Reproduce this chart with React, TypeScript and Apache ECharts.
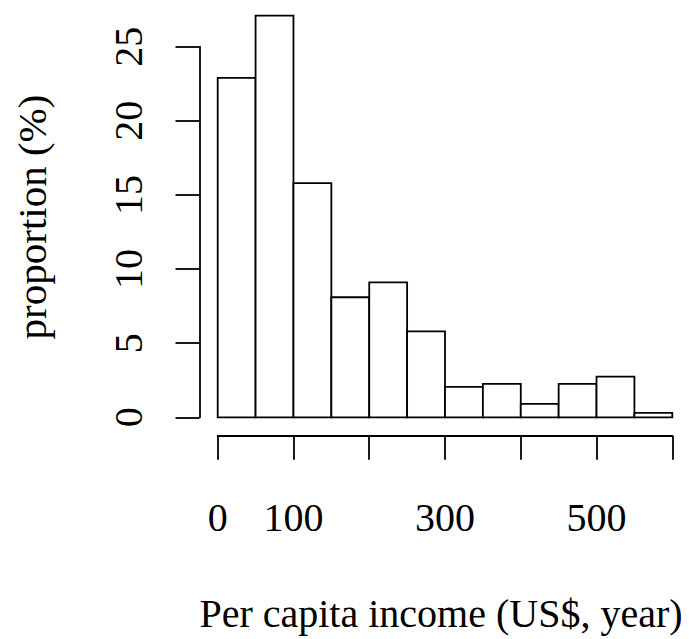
import React, { useEffect, useRef } from "react";
import * as echarts from "echarts";

// Histogram bins (US$ per year) and proportions (%)
const binEdges = [0, 50, 100, 150, 200, 250, 300, 350, 400, 450, 500, 550, 600];
const proportions = [22.9, 27.1, 15.8, 8.1, 9.1, 5.8, 2.05, 2.25, 0.9, 2.25, 2.75, 0.3];
const xTickValues = [0, 100, 200, 300, 400, 500, 600];
const xTickLabelsShown = [0, 100, 300, 500];
const yTickValues = [0, 5, 10, 15, 20, 25];
const xTitle = "Per capita income (US$, year)";
const yTitle = "proportion (%)";

const FONT = "'Liberation Serif', 'Times New Roman', serif";

export default function App() {
  const ref = useRef<HTMLDivElement>(null);
  useEffect(() => {
    document.body.style.margin = "0";
    const chart = echarts.init(ref.current!, null, { renderer: "svg" });
    const histData = proportions.map((v, i) => [binEdges[i], binEdges[i + 1], v]);
    const W = 689;
    const H = 639;
    // pixel layout
    const x0 = 217.7;
    const x600 = 672.3;
    const yZero = 417.3;
    const y25 = 46.7;
    const pxPerUnit = (yZero - y25) / 25;
    const yMaxBars = 27.5;
    const yAxisX = 199.5;
    const xAxisY = 435.7;
    const LW = 1.8;

    chart.setOption({
      animation: false,
      backgroundColor: "#ffffff",
      grid: [
        // bars
        { left: x0, right: W - x600, top: yZero - yMaxBars * pxPerUnit, bottom: H - yZero, containLabel: false },
        // y axis
        { left: yAxisX, width: 10, top: y25, bottom: H - yZero, containLabel: false },
        // x axis
        { left: x0, right: W - x600, top: xAxisY - 10, bottom: H - xAxisY, containLabel: false },
      ],
      xAxis: [
        { gridIndex: 0, type: "value", min: 0, max: 600, show: false },
        { gridIndex: 1, type: "value", min: 0, max: 1, show: false },
        {
          gridIndex: 2,
          type: "value",
          min: 0,
          max: 600,
          interval: 100,
          position: "bottom",
          axisLine: { show: true, lineStyle: { color: "#000", width: LW } },
          axisTick: { show: true, inside: false, length: 24, lineStyle: { color: "#000", width: LW } },
          splitLine: { show: false },
          axisLabel: {
            show: true,
            margin: 62,
            fontSize: 40,
            fontFamily: FONT,
            color: "#000",
            showMinLabel: true,
            showMaxLabel: true,
            hideOverlap: false,
            formatter: (v: number) => (xTickLabelsShown.includes(v) && xTickValues.includes(v) ? String(v) : ""),
          },
        },
      ],
      yAxis: [
        { gridIndex: 0, type: "value", min: 0, max: yMaxBars, show: false },
        {
          gridIndex: 1,
          type: "value",
          min: 0,
          max: 25,
          interval: 5,
          position: "left",
          axisLine: { show: true, lineStyle: { color: "#000", width: LW } },
          axisTick: { show: true, inside: false, length: 24, lineStyle: { color: "#000", width: LW } },
          splitLine: { show: false },
          axisLabel: {
            show: true,
            rotate: 90,
            margin: 51,
            fontSize: 40,
            fontFamily: FONT,
            color: "#000",
            showMinLabel: true,
            showMaxLabel: true,
            hideOverlap: false,
            formatter: (v: number) => (yTickValues.includes(v) ? String(v) : ""),
          },
        },
        { gridIndex: 2, type: "value", min: 0, max: 1, show: false },
      ],
      graphic: [
        {
          type: "text",
          x: 441,
          y: 613,
          style: {
            text: xTitle,
            fontSize: 40,
            fontFamily: FONT,
            fill: "#000",
            align: "center",
            verticalAlign: "middle",
          },
        },
        {
          type: "text",
          x: 32,
          y: 217,
          rotation: Math.PI / 2,
          style: {
            text: yTitle,
            fontSize: 41,
            fontFamily: FONT,
            fill: "#000",
            align: "center",
            verticalAlign: "middle",
          },
        },
      ],
      series: [
        {
          type: "custom",
          xAxisIndex: 0,
          yAxisIndex: 0,
          data: histData,
          encode: { x: [0, 1], y: 2 },
          renderItem: (params: any, api: any) => {
            const pTop = api.coord([api.value(0), api.value(2)]);
            const pBot = api.coord([api.value(1), 0]);
            return {
              type: "rect",
              shape: { x: pTop[0], y: pTop[1], width: pBot[0] - pTop[0], height: pBot[1] - pTop[1] },
              style: { fill: "#ffffff", stroke: "#000000", lineWidth: LW },
            };
          },
        },
      ],
    });
    return () => chart.dispose();
  }, []);
  return (
    <div
      ref={ref}
      style={{ position: "absolute", left: 0, top: 0, width: 689, height: 639 }}
    />
  );
}
